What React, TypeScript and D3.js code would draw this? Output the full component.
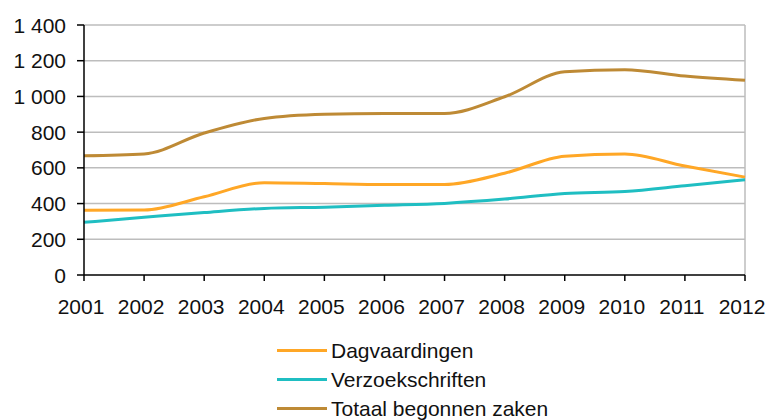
import React from "react";
import * as d3 from "d3";

const years = ["2001", "2002", "2003", "2004", "2005", "2006", "2007", "2008", "2009", "2010", "2011", "2012"];
const dagvaardingen = [362, 364, 438, 517, 512, 507, 507, 570, 665, 678, 610, 548];
const verzoekschriften = [295, 323, 350, 373, 380, 390, 401, 425, 457, 468, 500, 533];
const totaal = [668, 678, 795, 877, 900, 905, 905, 998, 1138, 1150, 1114, 1090];
const yTicks = [0, 200, 400, 600, 800, 1000, 1200, 1400];

const seriesNames = ["Dagvaardingen", "Verzoekschriften", "Totaal begonnen zaken"];
const seriesColors = ["#FFA726", "#1FBEC2", "#BE8A35"];
const seriesData = [dagvaardingen, verzoekschriften, totaal];

const W = 768;
const H = 420;
const L = 84;
const R = 745;
const T = 25;
const B = 275;

const fmt = (v: number) => {
  const s = String(v);
  return s.length > 3 ? s.slice(0, s.length - 3) + " " + s.slice(s.length - 3) : s;
};

export default function App() {
  const x = d3.scalePoint<string>().domain(years).range([L, R]);
  const y = d3.scaleLinear().domain([0, 1400]).range([B, T]);
  const line = d3
    .line<number>()
    .x((_, i) => x(years[i]) as number)
    .y((d) => y(d))
    .curve(d3.curveMonotoneX);
  const font = "'Liberation Sans', Arial, sans-serif";

  return (
    <svg width={W} height={H} style={{ position: "absolute", left: 0, top: 0, background: "#fff" }} fontFamily={font}>
      {yTicks.filter((t) => t > 0).map((t) => (
        <line key={"g" + t} x1={L} x2={R} y1={y(t)} y2={y(t)} stroke="#BDBDBD" strokeWidth={1.5} />
      ))}
      <line x1={R} x2={R} y1={T} y2={B} stroke="#BDBDBD" strokeWidth={1.5} />
      {seriesData.map((s, i) => (
        <path key={"s" + i} d={line(s) || ""} fill="none" stroke={seriesColors[i]} strokeWidth={3} />
      ))}
      <line x1={L} x2={L} y1={T} y2={B} stroke="#000" strokeWidth={1.5} />
      <line x1={L} x2={R} y1={B} y2={B} stroke="#000" strokeWidth={1.5} />
      {yTicks.map((t) => (
        <g key={"yt" + t}>
          <line x1={L - 7} x2={L} y1={y(t)} y2={y(t)} stroke="#000" strokeWidth={1.5} />
          <text x={66} y={y(t)} dy="0.36em" textAnchor="end" fontSize={21} fill="#111">
            {fmt(t)}
          </text>
        </g>
      ))}
      {years.map((yr) => (
        <g key={"xt" + yr}>
          <line x1={x(yr)} x2={x(yr)} y1={B} y2={B + 6} stroke="#000" strokeWidth={1.5} />
          <text x={(x(yr) as number) - 3} y={314} textAnchor="middle" fontSize={21} fill="#111">
            {yr}
          </text>
        </g>
      ))}
      {seriesNames.map((n, i) => (
        <g key={"lg" + i}>
          <line x1={277} x2={327} y1={350.5 + i * 29} y2={350.5 + i * 29} stroke={seriesColors[i]} strokeWidth={3} />
          <text x={331} y={357.5 + i * 29} fontSize={21} fill="#111">
            {n}
          </text>
        </g>
      ))}
    </svg>
  );
}
